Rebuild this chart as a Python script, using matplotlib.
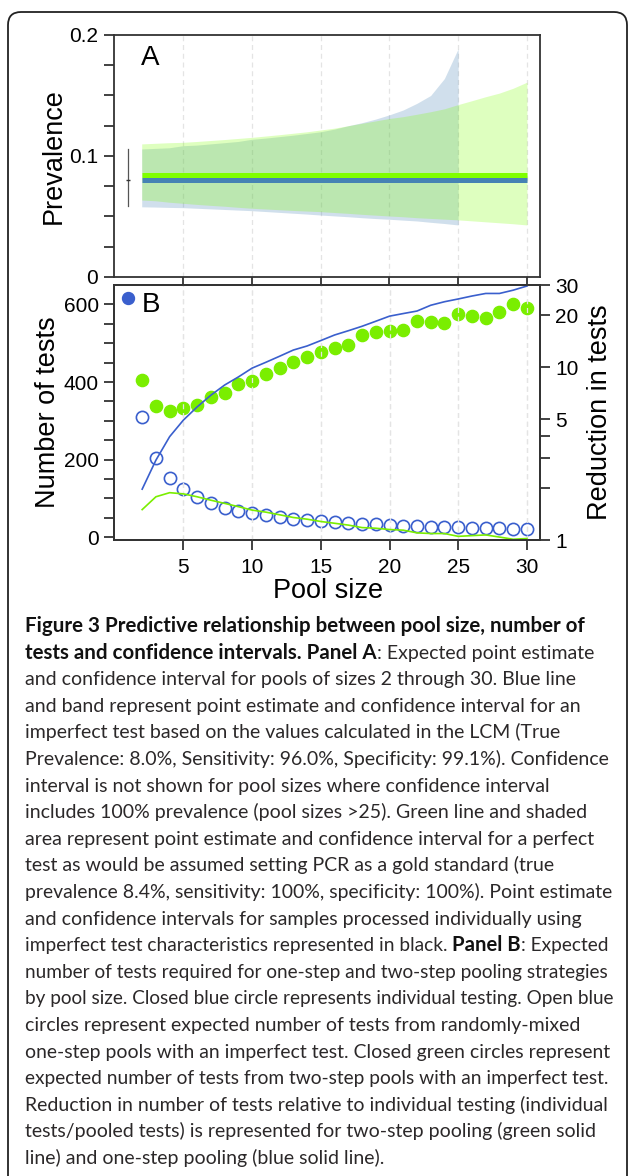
import matplotlib
matplotlib.use("Agg")
import matplotlib.pyplot as plt
from matplotlib.patches import FancyBboxPatch
from matplotlib.ticker import FixedLocator, NullFormatter

# ---- data ----
pool = list(range(2, 31))
pool_blue_ci = list(range(2, 26))

blue_ci_upper = [0.1058, 0.1063, 0.1068, 0.1085, 0.109, 0.110, 0.111, 0.112, 0.1138, 0.1148,
                 0.116, 0.1172, 0.1186, 0.120, 0.1222, 0.125, 0.1275, 0.1305, 0.134, 0.138,
                 0.1435, 0.150, 0.164, 0.1886]
blue_ci_lower = [0.058, 0.0578, 0.0575, 0.0573, 0.0568, 0.0563, 0.0558, 0.0553, 0.0548, 0.0541,
                 0.0534, 0.0527, 0.052, 0.0512, 0.0505, 0.0498, 0.049, 0.0483, 0.0477, 0.047,
                 0.0463, 0.0452, 0.0442, 0.043]
green_ci_upper = [0.110, 0.1105, 0.111, 0.1113, 0.112, 0.1128, 0.1136, 0.1145, 0.1154, 0.1165,
                  0.1176, 0.1188, 0.120, 0.1215, 0.123, 0.125, 0.127, 0.129, 0.131, 0.1325,
                  0.1345, 0.1366, 0.139, 0.1425, 0.1457, 0.149, 0.152, 0.156, 0.161]
green_ci_lower = [0.0636, 0.063, 0.0618, 0.0609, 0.060, 0.0592, 0.0585, 0.0576, 0.0568, 0.0562,
                  0.0556, 0.055, 0.0545, 0.054, 0.0533, 0.0526, 0.0518, 0.0511, 0.0504, 0.0498,
                  0.049, 0.0484, 0.0478, 0.0472, 0.0464, 0.0456, 0.0448, 0.044, 0.043]
blue_prev = 0.080
green_prev = 0.084
indiv_prev = 0.080
indiv_ci = (0.0587, 0.1058)

indiv_tests = 617
onestep_tests = [309, 205, 154, 124, 103, 87.5, 76, 68.5, 62, 57, 51.5, 47, 44.5, 42, 39,
                 37, 35, 33.4, 32, 30, 29, 27.5, 26.5, 25.5, 24.5, 24, 23, 22, 21]
twostep_tests = [405, 339, 325, 334, 342, 362, 372, 394, 402, 420, 437, 452, 465, 478, 488,
                 495, 522, 528, 531, 534, 557, 555, 553, 575, 570, 564, 581, 600, 591]
onestep_reduction = [1.97, 2.9, 3.97, 4.95, 5.9, 6.9, 7.9, 8.8, 9.9, 10.7, 11.6, 12.6, 13.3,
                     14.3, 15.4, 16.3, 17.3, 18.5, 19.8, 20.5, 21.2, 22.9, 24.0, 24.9, 25.9,
                     26.8, 26.8, 28.0, 29.6]
twostep_reduction = [1.5, 1.78, 1.88, 1.85, 1.78, 1.70, 1.63, 1.56, 1.49, 1.45, 1.40, 1.35,
                     1.32, 1.28, 1.25, 1.22, 1.18, 1.17, 1.15, 1.14, 1.10, 1.09, 1.09, 1.05,
                     1.06, 1.07, 1.04, 1.01, 1.02]

xticks = [5, 10, 15, 20, 25, 30]

caption = [
    [("Figure 3 Predictive relationship between pool size, number of", True)],
    [("tests and confidence intervals. Panel A", True), (": Expected point estimate", False)],
    [("and confidence interval for pools of sizes 2 through 30. Blue line", False)],
    [("and band represent point estimate and confidence interval for an", False)],
    [("imperfect test based on the values calculated in the LCM (True", False)],
    [("Prevalence: 8.0%, Sensitivity: 96.0%, Specificity: 99.1%). Confidence", False)],
    [("interval is not shown for pool sizes where confidence interval", False)],
    [("includes 100% prevalence (pool sizes >25). Green line and shaded", False)],
    [("area represent point estimate and confidence interval for a perfect", False)],
    [("test as would be assumed setting PCR as a gold standard (true", False)],
    [("prevalence 8.4%, sensitivity: 100%, specificity: 100%). Point estimate", False)],
    [("and confidence intervals for samples processed individually using", False)],
    [("imperfect test characteristics represented in black.", False), (" Panel B", True),
     (": Expected", False)],
    [("number of tests required for one-step and two-step pooling strategies", False)],
    [("by pool size. Closed blue circle represents individual testing. Open blue", False)],
    [("circles represent expected number of tests from randomly-mixed", False)],
    [("one-step pools with an imperfect test. Closed green circles represent", False)],
    [("expected number of tests from two-step pools with an imperfect test.", False)],
    [("Reduction in number of tests relative to individual testing (individual", False)],
    [("tests/pooled tests) is represented for two-step pooling (green solid", False)],
    [("line) and one-step pooling (blue solid line).", False)],
]

# ---- styling ----
plt.rcParams['font.family'] = ['Liberation Sans', 'DejaVu Sans']
blue_a = '#4682b4'
green_a = '#7fff00'
blue_b = '#3a5fcd'
green_b = '#7aee00'
spine_c = '#333333'
W, H = 629, 1176

fig = plt.figure(figsize=(W / 100, H / 100), dpi=100)

# rounded frame around the whole figure
frame = FancyBboxPatch((0.08, -0.2), 6.19, 11.84, boxstyle="round,pad=0,rounding_size=0.13",
                       transform=fig.dpi_scale_trans, fill=False, edgecolor='#222222',
                       linewidth=1.3)
fig.add_artist(frame)


def px_axes(l, t, r, b):
    return fig.add_axes([l / W, 1 - b / H, (r - l) / W, (b - t) / H])


def style(ax):
    for s in ax.spines.values():
        s.set_color(spine_c)
        s.set_linewidth(1.3)
    ax.tick_params(which='both', direction='out', length=7, width=1.3, color=spine_c,
                   labelsize=15, pad=4)
    for x in xticks:
        ax.axvline(x, color='#e4e4e4', lw=0.9, ls=(0, (4, 3)), zorder=0)


# ---- panel A ----
axA = px_axes(113.5, 35, 540, 277)
style(axA)
axA.fill_between(pool_blue_ci, blue_ci_lower, blue_ci_upper, color=blue_a, alpha=0.25, lw=0)
axA.fill_between(pool, green_ci_lower, green_ci_upper, color=green_a, alpha=0.25, lw=0)
axA.plot([pool[0], pool[-1]], [blue_prev, blue_prev], color=blue_a, lw=3.6, solid_capstyle='butt')
axA.plot([pool[0], pool[-1]], [green_prev, green_prev], color=green_a, lw=3.6,
         solid_capstyle='butt')
axA.plot([1, 1], indiv_ci, color='#555555', lw=0.9)
axA.plot([1], [indiv_prev], marker='_', color='#333333', ms=3)
axA.set_xlim(-0.05, 30.95)
axA.set_ylim(0, 0.2)
axA.set_xticks(xticks)
axA.set_xticklabels([])
axA.yaxis.set_major_locator(FixedLocator([0, 0.1, 0.2]))
axA.set_yticklabels(['0', '0.1', '0.2'])
axA.yaxis.set_minor_locator(FixedLocator([0.025, 0.05, 0.075, 0.125, 0.15, 0.175]))
axA.set_ylabel('Prevalence', fontsize=19.5)
axA.yaxis.set_label_coords(-0.11, 0.5)
axA.text(0.086, 0.905, 'A', transform=axA.transAxes, fontsize=20, ha='center', va='center')

# ---- panel B ----
axB = px_axes(114, 285, 540, 540)
style(axB)
axB.plot([1], [indiv_tests], 'o', color=blue_b, ms=8.6, mec=blue_b, zorder=3)
axB.plot(pool, onestep_tests, 'o', mfc='none', mec=blue_b, mew=1.2, ms=8.8, zorder=3)
axB.plot(pool, twostep_tests, 'o', color=green_b, mec=green_b, ms=8.8, zorder=3)
axB.set_xlim(-0.05, 30.95)
axB.set_ylim(-7, 650)
axB.set_xticks(xticks)
axB.set_xticklabels([str(x) for x in xticks])
axB.tick_params(axis='x', pad=6)
axB.yaxis.set_major_locator(FixedLocator([0, 200, 400, 600]))
axB.yaxis.set_minor_locator(FixedLocator([50, 100, 150, 250, 300, 350, 450, 500, 550]))
axB.set_ylabel('Number of tests', fontsize=19.5)
axB.yaxis.set_label_coords(-0.124, 0.5)
axB.set_xlabel('Pool size', fontsize=19.5)
axB.xaxis.set_label_coords(0.502, -0.15)
axB.text(0.086, 0.92, 'B', transform=axB.transAxes, fontsize=20, ha='center', va='center')

axR = axB.twinx()
style(axR)
axR.plot(pool, onestep_reduction, color=blue_b, lw=1.2)
axR.plot(pool, twostep_reduction, color=green_b, lw=1.2)
axR.set_yscale('log')
axR.set_ylim(1, 30)
axR.yaxis.set_major_locator(FixedLocator([1, 5, 10, 20, 30]))
axR.set_yticklabels(['1', '5', '10', '20', '30'])
axR.yaxis.set_minor_locator(FixedLocator([2, 3, 4]))
axR.yaxis.set_minor_formatter(NullFormatter())
axR.set_ylabel('Reduction in tests', fontsize=19.5)
axR.yaxis.set_label_coords(1.111, 0.5)

# ---- caption ----
cap_font = ['Lato', 'DejaVu Sans']
cap_size = 14.0
cap_bold_size = 14.8
cap_color = '#2b2829'
renderer = fig.canvas.get_renderer()
inv = fig.transFigure.inverted()
x_start = 25 / W
x_limit = 612 / W


def draw_line(parts, y, scale):
    x = x_start
    made = []
    for txt, bold in parts:
        if txt.startswith(' '):
            txt = txt.strip()
            x += 4.8 * scale / W
        t = fig.text(x, y, txt, family=cap_font, va='baseline', ha='left',
                     fontsize=(cap_bold_size if bold else cap_size) * scale,
                     fontweight='bold' if bold else 'normal',
                     color='#111111' if bold else cap_color)
        bb = t.get_window_extent(renderer=renderer)
        x = inv.transform((bb.x1, bb.y0))[0]
        made.append(t)
    return made, x


for i, parts in enumerate(caption):
    y = 1 - (632 + 26.6 * i) / H
    made, x_end = draw_line(parts, y, 1.0)
    if x_end > x_limit:
        for t in made:
            t.remove()
        draw_line(parts, y, (x_limit - x_start) / (x_end - x_start))

fig.savefig('out.png', dpi=100)
